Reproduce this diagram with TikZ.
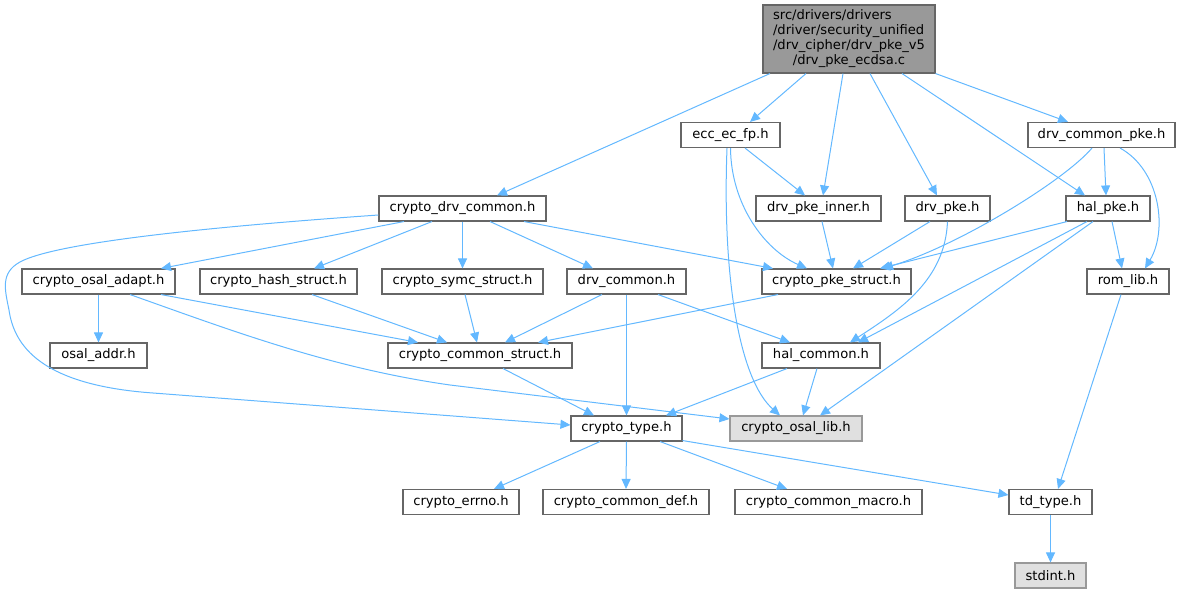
\documentclass[tikz,border=0pt]{standalone}
\usepackage{fontspec}
\setmainfont{DejaVu Sans}
\usetikzlibrary{arrows.meta}
\definecolor{edgeblue}{HTML}{63B8FF}
\definecolor{boxline}{HTML}{666666}
\definecolor{mainfill}{HTML}{999999}
\definecolor{grayfill}{HTML}{E0E0E0}
\definecolor{grayline}{HTML}{999999}
\begin{document}
\begin{tikzpicture}[x=1pt,y=-1pt,
  box/.style={draw=boxline, line width=1.1pt, fill=white, minimum height=25pt, inner sep=0pt, font=\fontsize{13.1}{15}\selectfont},
  graybox/.style={box, draw=grayline, fill=grayfill},
  link/.style={draw=edgeblue, line width=1pt, -{Triangle[length=10pt,width=9pt]}}]
\useasboundingbox (0,0) rectangle (1183,593);

% nodes
\node[box, fill=mainfill, minimum width=172pt, minimum height=68pt] (main) at (849,39)
  {\begin{tabular}{@{}l@{}}src/drivers/drivers\\/driver/security\_unified\\/drv\_cipher/drv\_pke\_v5\\\multicolumn{1}{@{}c@{}}{/drv\_pke\_ecdsa.c}\end{tabular}};
\node[box, minimum width=99pt] (ecc) at (730.5,135) {ecc\_ec\_fp.h};
\node[box, minimum width=147pt] (dcpke) at (1101.5,135) {drv\_common\_pke.h};
\node[box, minimum width=167pt] (cdc) at (462.5,208.5) {crypto\_drv\_common.h};
\node[box, minimum width=125pt] (inner) at (818.5,208.5) {drv\_pke\_inner.h};
\node[box, minimum width=85pt] (drvpke) at (947.5,208.5) {drv\_pke.h};
\node[box, minimum width=84pt] (halpke) at (1108,208.5) {hal\_pke.h};
\node[box, minimum width=153pt] (adapt) at (98.5,281.5) {crypto\_osal\_adapt.h};
\node[box, minimum width=157pt] (hash) at (278.5,281.5) {crypto\_hash\_struct.h};
\node[box, minimum width=161pt] (symc) at (462.5,281.5) {crypto\_symc\_struct.h};
\node[box, minimum width=119pt] (drvcommon) at (626.5,281.5) {drv\_common.h};
\node[box, minimum width=149pt] (pkestruct) at (836.5,281.5) {crypto\_pke\_struct.h};
\node[box, minimum width=82pt] (romlib) at (1128,281.5) {rom\_lib.h};
\node[box, minimum width=97pt] (osaladdr) at (98.5,355.5) {osal\_addr.h};
\node[box, minimum width=184pt] (commonstruct) at (480,355.5) {crypto\_common\_struct.h};
\node[box, minimum width=118pt] (halcommon) at (821,355.5) {hal\_common.h};
\node[box, minimum width=111pt] (ctype) at (626.5,428.5) {crypto\_type.h};
\node[graybox, minimum width=132pt] (osallib) at (796,428.5) {crypto\_osal\_lib.h};
\node[box, minimum width=116pt] (errno) at (461,502) {crypto\_errno.h};
\node[box, minimum width=166pt] (commondef) at (626,502) {crypto\_common\_def.h};
\node[box, minimum width=187pt] (macro) at (828.5,502) {crypto\_common\_macro.h};
\node[box, minimum width=83pt] (tdtype) at (1050.5,502) {td\_type.h};
\node[graybox, minimum width=71pt] (stdint) at (1050.5,575.5) {stdint.h};

% edges from main
\draw[link] ([xshift=-79pt]main.south) -- ([xshift=34.5pt]cdc.north);
\draw[link] ([xshift=-43pt]main.south) -- ([xshift=19.5pt]ecc.north);
\draw[link] ([xshift=-6pt]main.south) -- ([xshift=4.5pt]inner.north);
\draw[link] ([xshift=21pt]main.south) -- ([xshift=-10.5pt]drvpke.north);
\draw[link] ([xshift=53pt]main.south) -- ([xshift=-23pt]halpke.north);
\draw[link] (main.south east) -- ([xshift=-33.5pt]dcpke.north);

% ecc
\draw[link] ([xshift=14.5pt]ecc.south) -- ([xshift=-13.5pt]inner.north);
\draw[link] ([xshift=0pt]ecc.south) .. controls (731,205) and (765,250) .. ([xshift=-29.5pt]pkestruct.north);
\draw[link] ([xshift=-3.5pt]ecc.south) .. controls (722,280) and (740,380) .. ([xshift=-16pt]osallib.north);

% drv_common_pke
\draw[link] ([xshift=2.5pt]dcpke.south) -- ([xshift=-2pt]halpke.north);
\draw[link] ([xshift=18.5pt]dcpke.south) .. controls (1160,170) and (1168,230) .. ([xshift=17pt]romlib.north);
\draw[link] ([xshift=-9.5pt]dcpke.south) .. controls (1065,180) and (960,245) .. ([xshift=46.5pt]pkestruct.north);

% crypto_drv_common
\draw[link] ([xshift=-58.5pt]cdc.south) -- ([xshift=62.5pt]adapt.north);
\draw[link] ([xshift=-30.5pt]cdc.south) -- ([xshift=35.5pt]hash.north);
\draw[link] (cdc.south) -- (symc.north);
\draw[link] ([xshift=27.5pt]cdc.south) -- ([xshift=-33.5pt]drvcommon.north);
\draw[link] ([xshift=61.5pt]cdc.south) -- ([xshift=-63.5pt]pkestruct.north);
\draw[link] ([yshift=-6.5pt]cdc.west) .. controls (250,224) and (60,240) .. (20,262)
  .. controls (0,273) and (5,290) .. (9,310)
  .. controls (14,345) and (40,385) .. (153,393)
  -- ([yshift=3.5pt]ctype.west);

% crypto_osal_adapt
\draw[link] (adapt.south) -- (osaladdr.north);
\draw[link] ([xshift=62.5pt]adapt.south) -- ([xshift=-62pt]commonstruct.north);
\draw[link] ([xshift=31.5pt]adapt.south) .. controls (230,330) and (330,368) .. (450,385)
  -- ([yshift=9.5pt]osallib.west);

% level 3 to common struct
\draw[link] ([xshift=33.5pt]hash.south) -- ([xshift=-33pt]commonstruct.north);
\draw[link] ([xshift=2.5pt]symc.south) -- ([xshift=-3pt]commonstruct.north);
\draw[link] ([xshift=-24.5pt]drvcommon.south) -- ([xshift=25pt]commonstruct.north);
\draw[link] (drvcommon.south) -- (ctype.north);
\draw[link] ([xshift=31.5pt]drvcommon.south) -- ([xshift=-31pt]halcommon.north);
\draw[link] ([xshift=-58.5pt]pkestruct.south) -- ([xshift=58pt]commonstruct.north);

% inner, drv_pke, hal_pke
\draw[link] ([xshift=3.5pt]inner.south) -- ([xshift=-3.5pt]pkestruct.north);
\draw[link] ([xshift=-17.5pt]drvpke.south) -- ([xshift=16.5pt]pkestruct.north);
\draw[link] (drvpke.south) .. controls (945,280) and (900,310) .. ([xshift=29pt]halcommon.north);
\draw[link] ([xshift=-41pt]halpke.south) -- ([xshift=43.5pt]pkestruct.north);
\draw[link] ([xshift=-21pt]halpke.south) -- ([xshift=37pt]halcommon.north);
\draw[link] ([xshift=-15pt]halpke.south) -- ([xshift=24pt]osallib.north);
\draw[link] ([xshift=4pt]halpke.south) -- ([xshift=-6pt]romlib.north);

% level 4
\draw[link] ([xshift=23pt]commonstruct.south) -- ([xshift=-32.5pt]ctype.north);
\draw[link] ([xshift=-34pt]halcommon.south) -- ([xshift=39.5pt]ctype.north);
\draw[link] ([xshift=-4pt]halcommon.south) -- ([xshift=7pt]osallib.north);
\draw[link] ([xshift=-7pt]romlib.south) -- ([xshift=7.5pt]tdtype.north);

% crypto_type
\draw[link] ([xshift=-26.5pt]ctype.south) -- ([xshift=33pt]errno.north);
\draw[link] (ctype.south) -- (commondef.north);
\draw[link] ([xshift=33.5pt]ctype.south) -- ([xshift=-41.5pt]macro.north);
\draw[link] ([yshift=1pt]ctype.south east) -- ([yshift=7pt]tdtype.west);
\draw[link] (tdtype.south) -- (stdint.north);
\end{tikzpicture}
\end{document}
